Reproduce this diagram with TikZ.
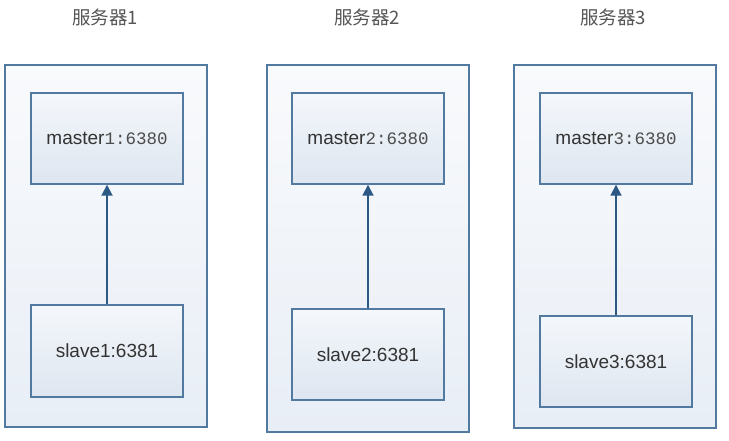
\documentclass[tikz,border=0pt]{standalone}
\usepackage{fontspec}
\setmainfont{Liberation Sans}
\newfontfamily\cjk{Noto Sans CJK SC}
\newfontfamily\monof{Liberation Mono}
\usetikzlibrary{arrows.meta}
\definecolor{boxline}{HTML}{5279A0}
\definecolor{arrowc}{HTML}{2C5A85}
\definecolor{txt}{HTML}{333333}
\definecolor{titlec}{HTML}{555555}
\definecolor{outertop}{HTML}{F9FAFC}
\definecolor{outerbot}{HTML}{E8EEF6}
\definecolor{innertop}{HTML}{F4F7FB}
\definecolor{innerbot}{HTML}{DEE6F0}
\tikzset{
  outerbox/.style={draw=boxline, line width=1.4pt, top color=outertop, bottom color=outerbot, minimum width=202pt, inner sep=0pt},
  innerbox/.style={draw=boxline, line width=1.4pt, top color=innertop, bottom color=innerbot, minimum width=152pt, minimum height=91pt, inner sep=0pt, text=txt, font=\fontsize{19}{21}\selectfont},
  titletext/.style={text=titlec, font=\cjk\fontsize{18.5}{21}\selectfont, inner sep=0pt},
  link/.style={draw=arrowc, line width=1.8pt, -{Triangle[width=11pt,length=11pt]}},
}
\newcommand{\portpart}[1]{{\monof\fontsize{17.5}{20}\selectfont\color{black!70}#1}}
\begin{document}
\begin{tikzpicture}[x=1pt,y=-1pt]
\useasboundingbox (0,0) rectangle (729,441);
% outer boxes
\node[outerbox, minimum height=362pt] (s1) at (106,246) {};
\node[outerbox, minimum height=367pt] (s2) at (368,248.5) {};
\node[outerbox, minimum height=363pt] (s3) at (615,246.5) {};
% titles
\node[titletext] (t1) at (105,17) {服务器1};
\node[titletext] (t2) at (367,17) {服务器2};
\node[titletext] (t3) at (613,17) {服务器3};
% masters
\node[innerbox] (m1) at (107,138.5) {master\portpart{1:6380}};
\node[innerbox] (m2) at (368,138.5) {master\portpart{2:6380}};
\node[innerbox] (m3) at (616,138.5) {master\portpart{3:6380}};
% slaves
\node[innerbox, minimum height=92pt] (l1) at (107,351) {slave1:6381};
\node[innerbox] (l2) at (368,354.5) {slave2:6381};
\node[innerbox] (l3) at (616,361.5) {slave3:6381};
% arrows
\draw[link] (l1) -- (m1);
\draw[link] (l2) -- (m2);
\draw[link] (l3) -- (m3);
\end{tikzpicture}
\end{document}
